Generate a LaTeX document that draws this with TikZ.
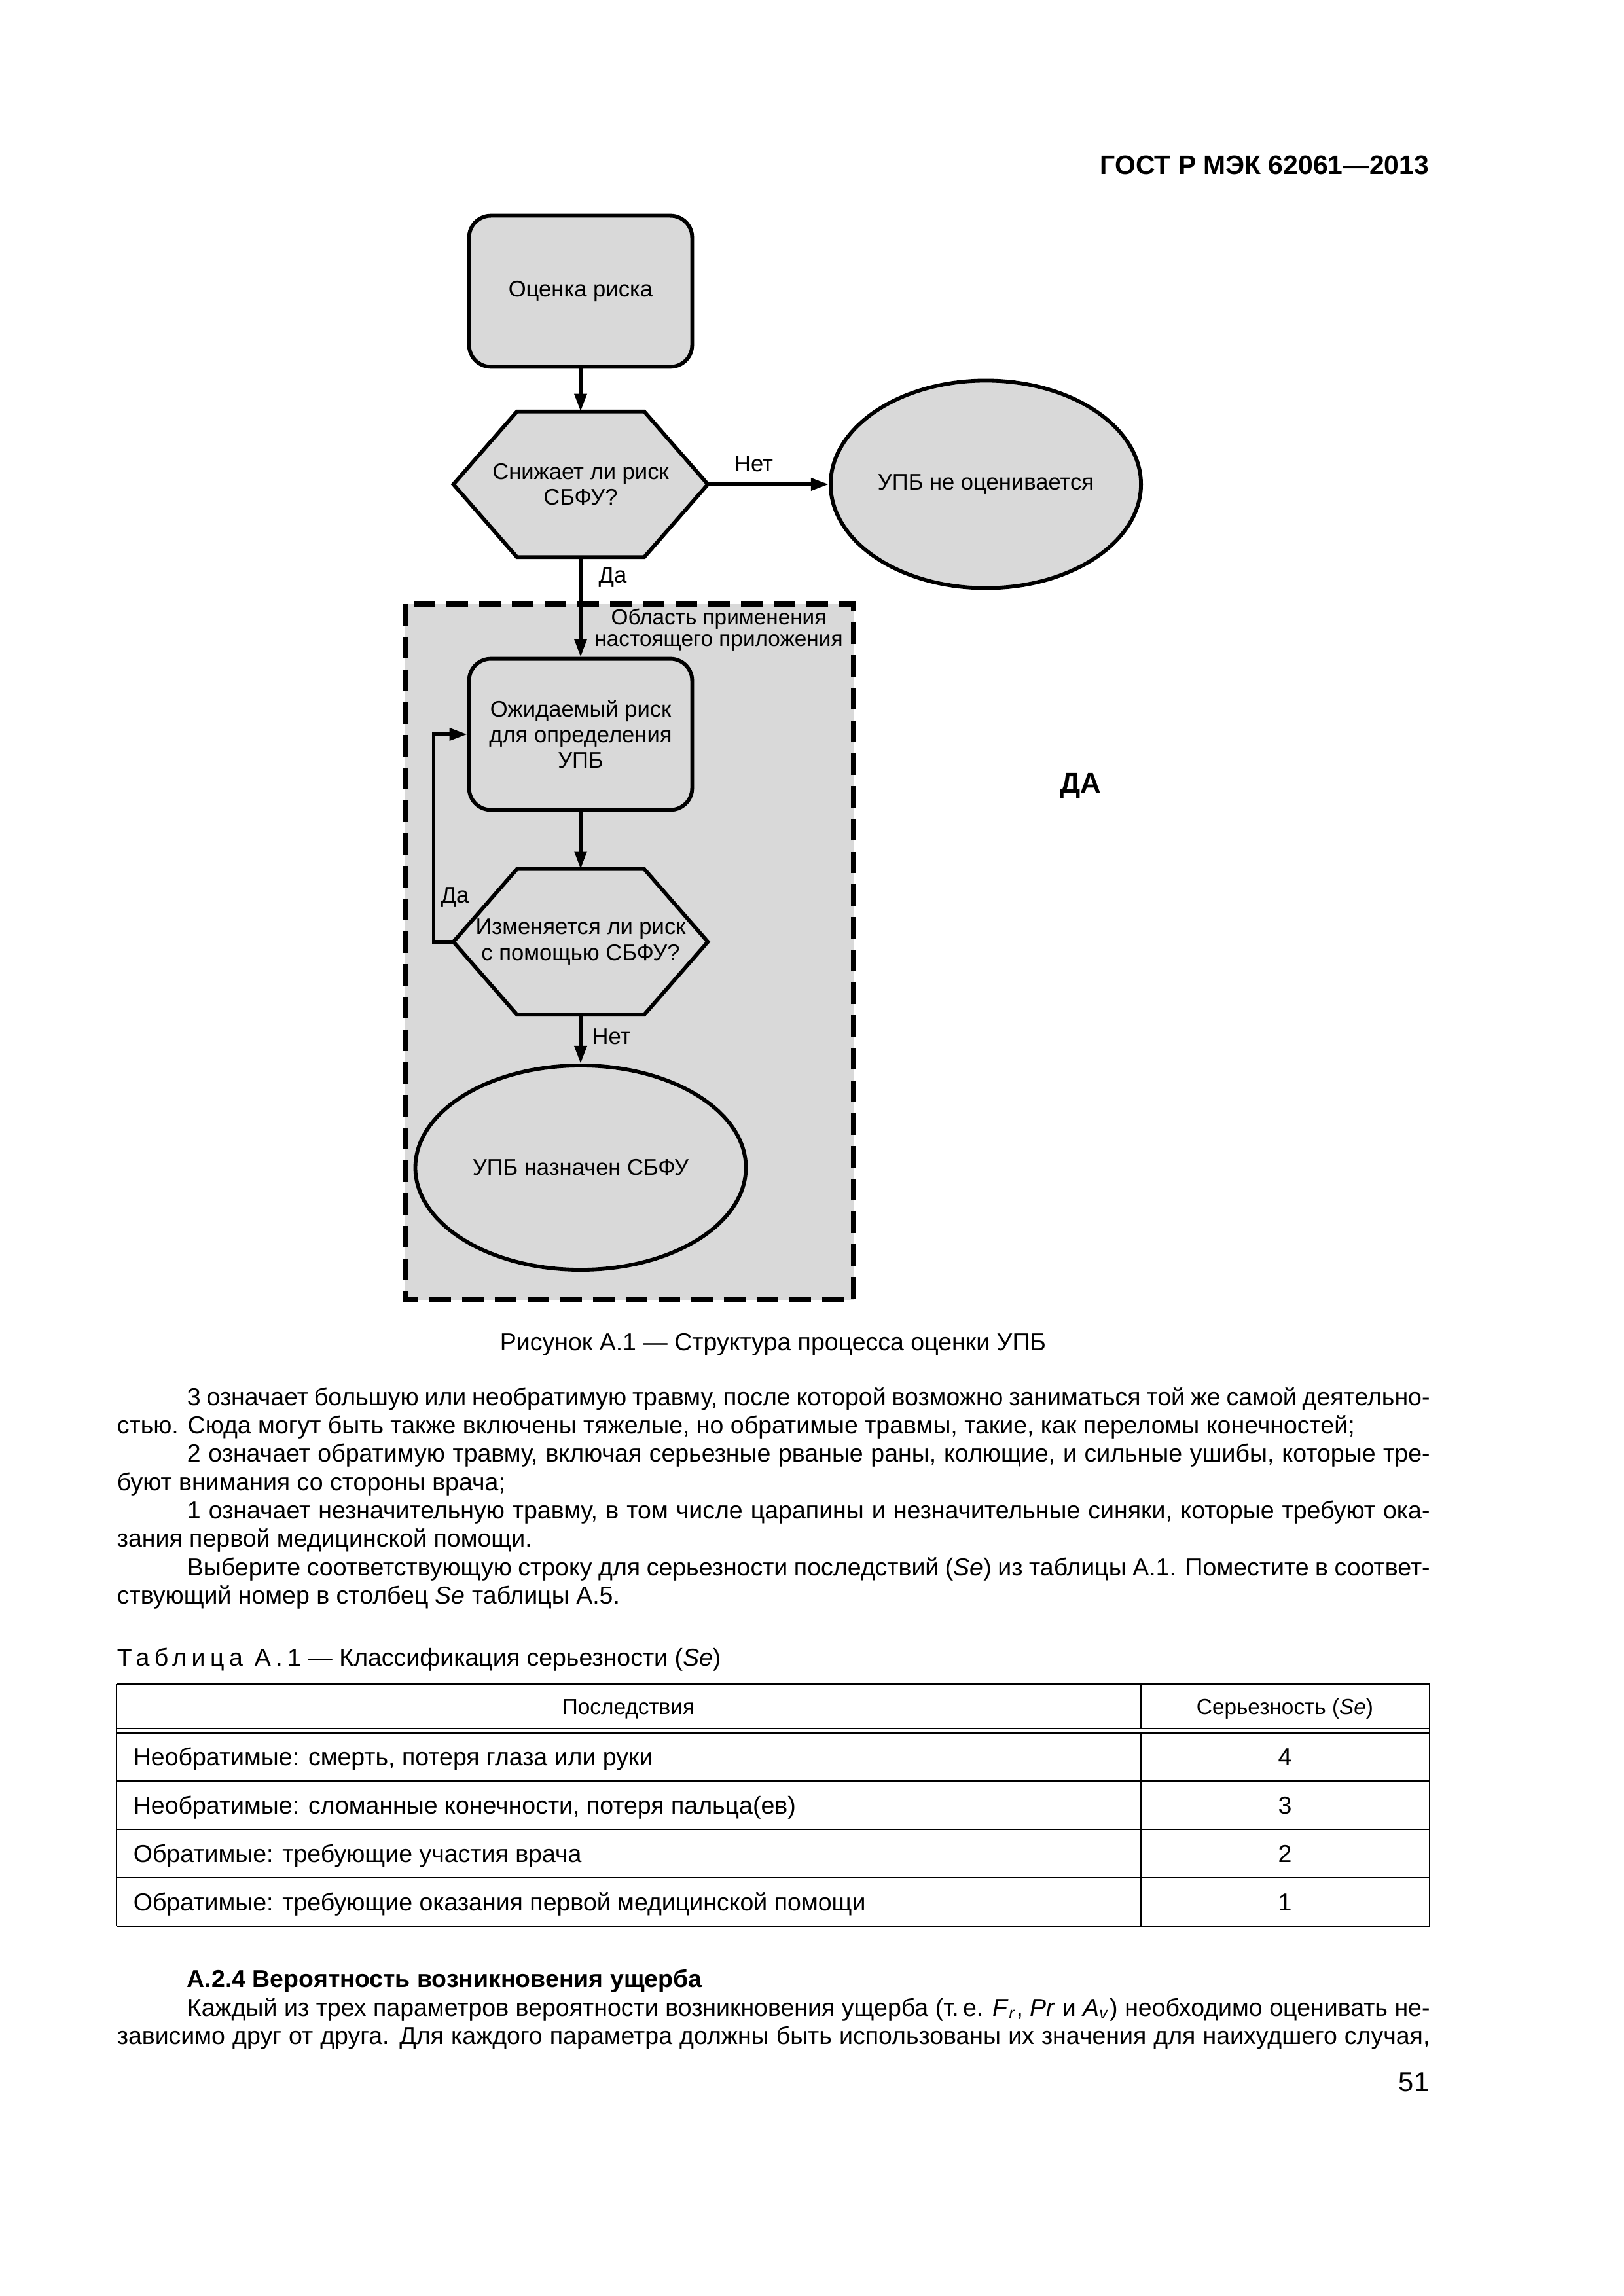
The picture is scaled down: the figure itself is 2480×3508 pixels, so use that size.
\documentclass[tikz,border=0pt]{standalone}
\usepackage{fontspec}
\setmainfont{Liberation Sans}
\usetikzlibrary{arrows.meta, shapes.geometric, calc, backgrounds}
\definecolor{boxgray}{RGB}{217,217,217}
\tolerance=10000
\hyphenpenalty=10000

\tikzset{
  chart/.style={font=\fontsize{8.3}{9.4}\selectfont, align=center},
  riskbox/.style={chart, rectangle, rounded corners=8pt, draw, line width=1.4pt, fill=boxgray, minimum width=81.8pt, minimum height=55.4pt},
  decision/.style={chart, rectangle, minimum width=92.9pt, minimum height=53pt, inner sep=0pt},
  outcome/.style={chart, ellipse, draw, line width=1.4pt, fill=boxgray, inner sep=0pt},
  flow/.style={line width=1.3pt, -{Triangle[length=6.5pt,width=4.4pt]}},
  lbl/.style={font=\fontsize{8.3}{9.4}\selectfont, inner sep=2pt},
  scopeframe/.style={draw, line width=1.8pt, dash pattern=on 8pt off 4pt, fill=boxgray},
  body/.style={font=\fontsize{9}{10.4}\selectfont, inner sep=0pt},
  para/.style={body, anchor=base west, text width=481.4pt, align=justify},
  tabrule/.style={line width=0.6pt},
}
\newcommand{\hexframe}[1]{%
  \draw[line width=1.4pt, fill=boxgray]
    (#1.west) -- ($(#1.north west)!0.25!(#1.north east)$) -- ($(#1.north west)!0.75!(#1.north east)$)
    -- (#1.east) -- ($(#1.south west)!0.75!(#1.south east)$) -- ($(#1.south west)!0.25!(#1.south east)$) -- cycle;}

\begin{document}
\begin{tikzpicture}[x=0.24pt, y=-0.24pt]
  \begin{scope}[on background layer]
    \path[use as bounding box, fill=white] (0,0) rectangle (2480,3508);
    % Scope of the annex
    \draw[scopeframe] (619,923) rectangle (1304,1986);
  \end{scope}

  % Header
  \node[anchor=base east, inner sep=0pt, font=\bfseries\fontsize{9.8}{12}\selectfont] (gost) at (2184,267) {ГОСТ Р МЭК 62061—2013};

  % Flow chart
  \node[riskbox] (risk) at (887,445) {Оценка риска};
  \node[decision] (q1) at (887,740) {Снижает ли риск\\СБФУ?};
  \node[outcome, minimum width=113.8pt, minimum height=76.1pt] (skip) at (1506,740) {УПБ не оценивается};
  \node[font=\fontsize{8}{7.9}\selectfont, align=center] (scopelbl) at (1098,962) {Область применения\\настоящего приложения};
  \node[riskbox] (target) at (887,1122) {Ожидаемый риск\\для определения\\УПБ};
  \node[decision] (q2) at (887,1439) {Изменяется ли риск\\с помощью СБФУ?};
  \node[outcome, minimum width=121.2pt, minimum height=74.9pt] (assign) at (887,1784) {УПБ назначен СБФУ};
  \node[font=\bfseries\fontsize{10.5}{12}\selectfont] (mark) at (1651,1201) {ДА};

  \begin{scope}[on background layer]
    \hexframe{q1}
    \hexframe{q2}
  \end{scope}

  \draw[flow] (risk.south) -- (q1.north);
  \draw[flow] (q1.east) -- node[lbl, pos=0.38, above=2pt] {Нет} (skip.west);
  \draw[flow] (q1.south) -- node[lbl, pos=0.2, right=4pt] {Да} (target.north);
  \draw[flow] (target.south) -- (q2.north);
  \draw[flow] (q2.south) -- node[lbl, pos=0.45, right=1.6pt] {Нет} (assign.north);
  \draw[flow] (q2.west) -- ++(-30,0) |- node[lbl, pos=0.107, right] {Да} (target.west);

  % Caption and text
  \node[body, anchor=base] (figcap) at (1181,2063) {Рисунок А.1 — Структура процесса оценки УПБ};
  \node[para] (text1) at (178,2147) {%
    \hspace*{25.7pt}3 означает большую или необратимую травму, после которой возможно заниматься той же самой деятельно-\linebreak стью. Сюда могут быть также включены тяжелые, но обратимые травмы, такие, как переломы конечностей;\par
    \hspace*{25.7pt}2 означает обратимую травму, включая серьезные рваные раны, колющие, и сильные ушибы, которые тре-\linebreak буют внимания со стороны врача;\par
    \hspace*{25.7pt}1 означает незначительную травму, в том числе царапины и незначительные синяки, которые требуют ока-\linebreak зания первой медицинской помощи.\par
    \hspace*{25.7pt}Выберите соответствующую строку для серьезности последствий (\textit{Se}) из таблицы А.1. Поместите в соответ-\linebreak ствующий номер в столбец \textit{Se} таблицы А.5.};

  % Table A.1
  \node[body, anchor=base west] (tabcap) at (178,2545) {{\addfontfeature{LetterSpace=20}Таблица А.1} — Классификация серьезности (\textit{Se})};
  \foreach \y in {2573,2641,2648,2721,2795,2869,2943}
    \draw[tabrule] (178,\y) -- (2184,\y);
  \draw[tabrule] (178,2573) -- (178,2943);
  \draw[tabrule] (2184,2573) -- (2184,2943);
  \draw[tabrule] (1743,2573) -- (1743,2641);
  \draw[tabrule] (1743,2648) -- (1743,2943);
  \node[body, anchor=base, font=\fontsize{8}{10}\selectfont] (colA) at (960,2619) {Последствия};
  \node[body, anchor=base, font=\fontsize{8}{10}\selectfont] (colB) at (1963,2619) {Серьезность (\textit{Se})};
  \foreach \y/\txt/\se in {2697/{Необратимые: смерть, потеря глаза или руки}/4,
                           2771/{Необратимые: сломанные конечности, потеря пальца(ев)}/3,
                           2845/{Обратимые: требующие участия врача}/2,
                           2919/{Обратимые: требующие оказания первой медицинской помощи}/1} {
    \node[body, anchor=base west] at (203,\y) {\txt};
    \node[body, anchor=base] at (1963,\y) {\se};
  }

  % A.2.4
  \node[body, anchor=base west, font=\bfseries\fontsize{9}{10.4}\selectfont] (sec) at (285,3036) {А.2.4 Вероятность возникновения ущерба};
  \node[para] (text2) at (178,3080) {%
    \hspace*{25.7pt}Каждый из трех параметров вероятности возникновения ущерба (т.\,е. \textit{F}\textsubscript{\textit{r}}, \textit{Pr} и \textit{A}\textsubscript{\textit{v}}) необходимо оценивать не-\linebreak зависимо друг от друга. Для каждого параметра должны быть использованы их значения для наихудшего случая,\parfillskip=0pt\par};

  % Page number
  \node[anchor=base east, inner sep=0pt, font=\fontsize{10}{12}\selectfont] (page) at (2184,3195) {51};
\end{tikzpicture}
\end{document}
